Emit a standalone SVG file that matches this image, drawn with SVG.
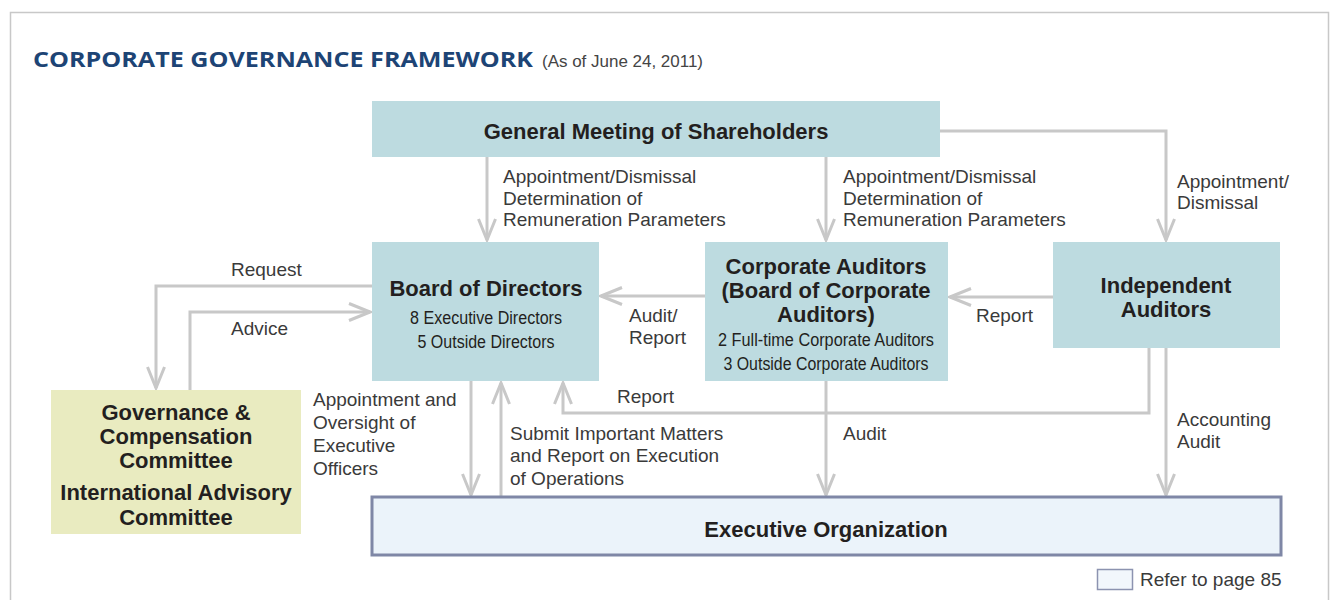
<svg xmlns="http://www.w3.org/2000/svg" width="1330" height="600" viewBox="0 0 1330 600">
<defs>
<style>
.frame{fill:none;stroke:#c8c8c8;stroke-width:1.5}
.box{fill:#bddbe0}
.gov{fill:#e9ebc0}
.exec{fill:#ebf3fa;stroke:#7f87a6;stroke-width:3}
.c{fill:none;stroke:#c8c8c8;stroke-width:3}
.ca{fill:none;stroke:#c8c8c8;stroke-width:3;marker-end:url(#arr)}
.h{font-family:"Liberation Sans",Arial,sans-serif;font-weight:bold;font-size:22px;fill:#231f20;text-anchor:middle}
.s{font-family:"Liberation Sans",Arial,sans-serif;font-size:17.5px;fill:#231f20;text-anchor:middle}
.l{font-family:"Liberation Sans",Arial,sans-serif;font-size:19px;fill:#3a3a3a}
.title{font-family:"Open Sans","Liberation Sans",sans-serif;font-weight:bold;font-size:22px;fill:#1d4475}
.sub{font-family:"Liberation Sans",Arial,sans-serif;font-size:16px;fill:#444}
</style>
<marker id="arr" markerUnits="userSpaceOnUse" markerWidth="26" markerHeight="22" refX="23" refY="11" orient="auto">
<path d="M2,2.5 L23,11 L2,19.5" fill="none" stroke="#c8c8c8" stroke-width="3"/>
</marker>
</defs>
<rect width="1330" height="600" fill="#fff"/>
<path class="frame" d="M10.5,600 V12.5 H1328.5 V600"/>
<text class="title" x="33" y="67" textLength="500" lengthAdjust="spacingAndGlyphs">CORPORATE GOVERNANCE FRAMEWORK</text>
<text class="sub" x="542" y="67" textLength="161" lengthAdjust="spacingAndGlyphs">(As of June 24, 2011)</text>

<g id="connectors">
<path class="ca" d="M487,157 V240"/>
<path class="ca" d="M826,157 V240"/>
<path class="ca" d="M940,131 H1166 V240"/>
<path class="ca" d="M372,286 H156 V388"/>
<path class="ca" d="M190,390 V312 H370"/>
<path class="ca" d="M705,296 H601"/>
<path class="ca" d="M1053,297 H950"/>
<path class="ca" d="M1149,348 V413 H563 V383"/>
<path class="ca" d="M1166,348 V495"/>
<path class="ca" d="M471,381 V495"/>
<path class="ca" d="M501,496 V383"/>
<path class="ca" d="M826,381 V495"/>
</g>

<g id="labels">
<text class="l" x="503" y="183">Appointment/Dismissal</text>
<text class="l" x="503" y="205">Determination of</text>
<text class="l" x="503" y="226">Remuneration Parameters</text>
<text class="l" x="843" y="183">Appointment/Dismissal</text>
<text class="l" x="843" y="205">Determination of</text>
<text class="l" x="843" y="226">Remuneration Parameters</text>
<text class="l" x="1177" y="188">Appointment/</text>
<text class="l" x="1177" y="209">Dismissal</text>
<text class="l" x="231" y="276">Request</text>
<text class="l" x="231" y="335">Advice</text>
<text class="l" x="629" y="322">Audit/</text>
<text class="l" x="629" y="344">Report</text>
<text class="l" x="976" y="322">Report</text>
<text class="l" x="617" y="403">Report</text>
<text class="l" x="313" y="406">Appointment and</text>
<text class="l" x="313" y="429">Oversight of</text>
<text class="l" x="313" y="452">Executive</text>
<text class="l" x="313" y="475">Officers</text>
<text class="l" x="510" y="440">Submit Important Matters</text>
<text class="l" x="510" y="462">and Report on Execution</text>
<text class="l" x="510" y="485">of Operations</text>
<text class="l" x="843" y="440">Audit</text>
<text class="l" x="1177" y="426">Accounting</text>
<text class="l" x="1177" y="448">Audit</text>
</g>

<g id="gm">
<rect class="box" x="372" y="101" width="568" height="56"/>
<text class="h" x="656" y="139">General Meeting of Shareholders</text>
</g>

<g id="board">
<rect class="box" x="372" y="242" width="227" height="139"/>
<text class="h" x="486" y="296">Board of Directors</text>
<text class="s" x="486" y="324" textLength="152" lengthAdjust="spacingAndGlyphs">8 Executive Directors</text>
<text class="s" x="486" y="348" textLength="137" lengthAdjust="spacingAndGlyphs">5 Outside Directors</text>
</g>

<g id="corpauditors">
<rect class="box" x="705" y="242" width="243" height="139"/>
<text class="h" x="826" y="274">Corporate Auditors</text>
<text class="h" x="826" y="298">(Board of Corporate</text>
<text class="h" x="826" y="322">Auditors)</text>
<text class="s" x="826" y="346" textLength="216" lengthAdjust="spacingAndGlyphs">2 Full-time Corporate Auditors</text>
<text class="s" x="826" y="370" textLength="205" lengthAdjust="spacingAndGlyphs">3 Outside Corporate Auditors</text>
</g>

<g id="independent">
<rect class="box" x="1053" y="242" width="227" height="106"/>
<text class="h" x="1166" y="293">Independent</text>
<text class="h" x="1166" y="317">Auditors</text>
</g>

<g id="governance">
<rect class="gov" x="51" y="390" width="250" height="144"/>
<text class="h" x="176" y="420">Governance &amp;</text>
<text class="h" x="176" y="444">Compensation</text>
<text class="h" x="176" y="468">Committee</text>
<text class="h" x="176" y="500">International Advisory</text>
<text class="h" x="176" y="525">Committee</text>
</g>

<g id="executive">
<rect class="exec" x="372" y="497" width="909" height="58"/>
<text class="h" x="826" y="537">Executive Organization</text>
</g>

<g id="legend">
<rect x="1097.5" y="569.5" width="35" height="20" fill="#f2f7fc" stroke="#8c93b0" stroke-width="1.5"/>
<text class="l" x="1140" y="586">Refer to page 85</text>
</g>
</svg>
